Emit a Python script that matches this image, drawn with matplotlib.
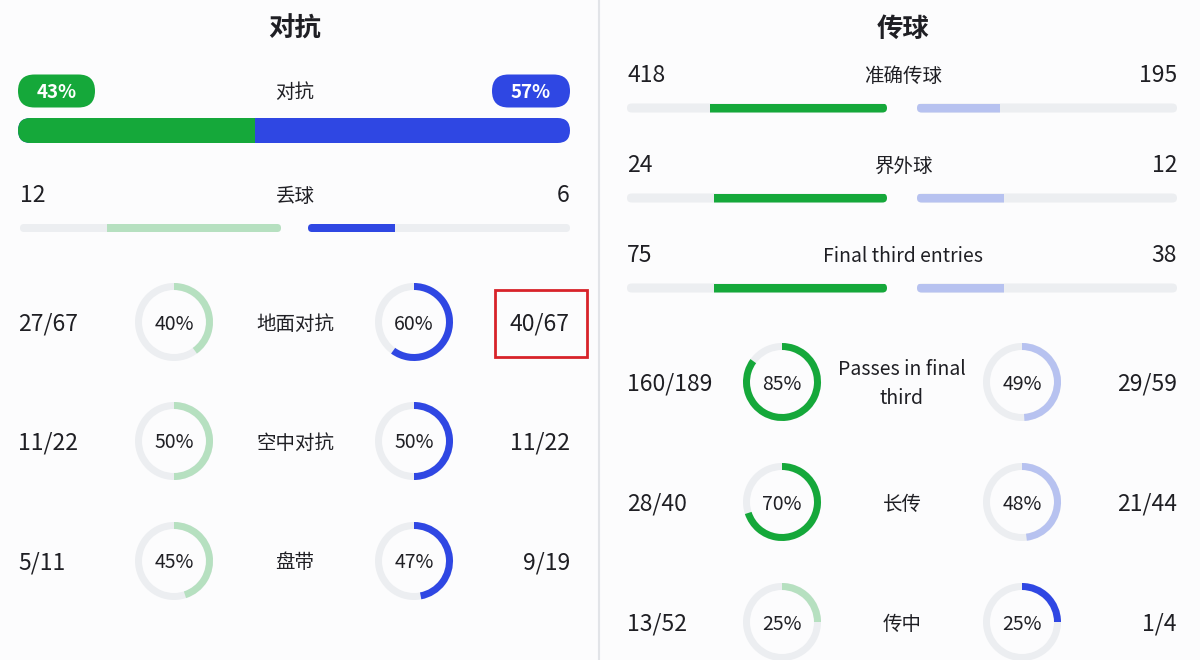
import matplotlib
matplotlib.use("Agg")
import matplotlib.pyplot as plt
from matplotlib.patches import FancyBboxPatch, Wedge, Rectangle

plt.rcParams['font.family'] = ['Noto Sans CJK SC', 'DejaVu Sans']

# ---- data ----
duel_pct = [43, 57]
duel_label = "对抗"

lost_label = "丢球"
lost_values = [12, 6]

duel_ring_labels = ["地面对抗", "空中对抗", "盘带"]
duel_home_won = [27, 11, 5]
duel_home_total = [67, 22, 11]
duel_away_won = [40, 11, 9]
duel_away_total = [67, 22, 19]

pass_bar_labels = ["准确传球", "界外球", "Final third entries"]
pass_home = [418, 24, 75]
pass_away = [195, 12, 38]

pass_ring_labels = ["Passes in final\nthird", "长传", "传中"]
pass_home_won = [160, 28, 13]
pass_home_total = [189, 40, 52]
pass_away_won = [29, 21, 1]
pass_away_total = [59, 44, 4]

# ---- style ----
GREEN = "#15a83a"
GREEN_L = "#b6e0c0"
BLUE = "#2f47e3"
BLUE_L = "#b7c2f0"
TRACK = "#eceef1"
TXT = "#1f1f24"
NUM_FS = 16.5
LAB_FS = 14

fig = plt.figure(figsize=(12, 6.6), dpi=100)
fig.patch.set_facecolor("#fcfcfd")
ax = fig.add_axes([0, 0, 1, 1])
ax.set_xlim(0, 1200)
ax.set_ylim(660, 0)
ax.axis("off")


def txt(x, y, s, ha="center", fs=LAB_FS, **kw):
    kw.setdefault("color", TXT)
    ax.text(x, y + 2, s, ha=ha, va="center", fontsize=fs, **kw)


def rounded(x0, x1, yc, h, color, z=1):
    p = FancyBboxPatch((x0, yc - h / 2), x1 - x0, h,
                       boxstyle="round,pad=0,rounding_size=%f" % (h / 2),
                       fc=color, ec="none", zorder=z)
    ax.add_patch(p)
    return p


def split_bar(yc, values, lx0, lx1, rx0, rx1, home_dark, h=8):
    total = sum(values)
    lt = rounded(lx0, lx1, yc, h, TRACK)
    rt = rounded(rx0, rx1, yc, h, TRACK)
    lw = (lx1 - lx0) * values[0] / total
    rw = (rx1 - rx0) * values[1] / total
    b1 = ax.barh(yc, lw, left=lx1 - lw, height=h,
                 color=GREEN if home_dark else GREEN_L, zorder=2)
    b2 = ax.barh(yc, rw, left=rx0, height=h,
                 color=BLUE_L if home_dark else BLUE, zorder=2)
    b1[0].set_clip_path(lt)
    b2[0].set_clip_path(rt)


def ring(cx, cy, pct, color, r=39, w=7):
    ax.add_patch(Wedge((cx, cy), r, 0, 360, width=w, fc=TRACK, ec="none", zorder=1))
    ax.add_patch(Wedge((cx, cy), r, -90, -90 + 3.6 * pct, width=w,
                       fc=color, ec="none", zorder=2))
    txt(cx, cy, "%d%%" % pct, fs=14, zorder=3)


def ring_rows(ys, labels, hw, ht, aw, at, x_l, x_r, cx_l, cx_r, cx_lab):
    for y, lab, a, b, c, d in zip(ys, labels, hw, ht, aw, at):
        hp = round(100 * a / b)
        ap = round(100 * c / d)
        ring(cx_l, y, hp, GREEN if hp > ap else GREEN_L)
        ring(cx_r, y, ap, BLUE if ap >= hp else BLUE_L)
        txt(x_l, y, "%d/%d" % (a, b), ha="left", fs=NUM_FS)
        txt(x_r, y, "%d/%d" % (c, d), ha="right", fs=NUM_FS)
        txt(cx_lab, y, lab, linespacing=1.45)


# ---- left panel: 对抗 ----
txt(295, 27, "对抗", fs=19, fontweight="bold")
rounded(18, 95, 91, 33, GREEN)
rounded(492, 570, 91, 33, BLUE)
txt(56.5, 90, "%d%%" % duel_pct[0], fs=13.5, fontweight="bold",
    color="white", zorder=3)
txt(531, 90, "%d%%" % duel_pct[1], fs=13.5, fontweight="bold",
    color="white", zorder=3)
txt(295, 90, duel_label)

big = rounded(18, 570, 130.5, 25, BLUE)
gb = ax.barh(130.5, 552 * duel_pct[0] / sum(duel_pct), left=18, height=25,
             color=GREEN, zorder=2)
gb[0].set_clip_path(big)

txt(20, 194, str(lost_values[0]), ha="left", fs=NUM_FS)
txt(570, 194, str(lost_values[1]), ha="right", fs=NUM_FS)
txt(295, 194, lost_label)
# fewer lost balls is better
split_bar(228, lost_values, 20, 281, 308, 570, lost_values[0] < lost_values[1])

ring_rows([322, 441, 561], duel_ring_labels, duel_home_won, duel_home_total,
          duel_away_won, duel_away_total, 18, 570, 174, 414, 295)

ax.add_patch(Rectangle((495, 290), 92, 67, fill=False, ec="#d8232a", lw=2, zorder=4))

# ---- divider ----
ax.plot([599, 599], [0, 660], color="#e2e4e8", lw=1.5)

# ---- right panel: 传球 ----
txt(903, 27, "传球", fs=19, fontweight="bold")
for y, lab, a, b in zip([74, 164, 254], pass_bar_labels, pass_home, pass_away):
    txt(627, y, str(a), ha="left", fs=NUM_FS)
    txt(1177, y, str(b), ha="right", fs=NUM_FS)
    txt(903, y, lab)
    split_bar(y + 34, [a, b], 627, 887, 917, 1177, a > b, h=9)

ring_rows([382, 502, 622], pass_ring_labels, pass_home_won, pass_home_total,
          pass_away_won, pass_away_total, 627, 1177, 782, 1022, 902)

fig.savefig("out.png", dpi=100, facecolor=fig.get_facecolor())
